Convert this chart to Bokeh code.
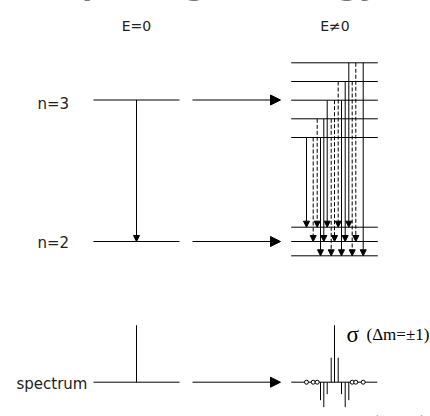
from bokeh.plotting import figure
from bokeh.models import Range1d, Arrow, NormalHead, ColumnDataSource
from bokeh.embed import file_html
from bokeh.resources import INLINE
from bokeh.core.properties import value

# ---------------- data ----------------
title_text = "Splitting of energy"
field_labels = ["E=0", "E\u22600"]
field_x = [136, 334.5]

n_labels = ["n=3", "n=2"]
n_levels_y = [99.5, 241.0]          # unperturbed levels (E=0)
spectrum_label = "spectrum"
spectrum_y = 381.7
zero_field_line = 57.0              # height of the single unsplit line

# Stark-split levels (E != 0): upper (n=3, bottom->top), lower (n=2, top->bottom)
upper_split_y = [137.0, 118.3, 99.7, 81.0, 62.3]
lower_split_y = [226.7, 241.0, 255.3]

# 15 transitions
trans_x = [306.0, 312.7, 320.0,
           316.7, 323.3, 330.7,
           326.7, 334.0, 341.0,
           337.7, 344.7, 351.7,
           348.3, 355.3, 362.7]
trans_upper = [0, 0, 0, 1, 1, 1, 2, 2, 2, 3, 3, 3, 4, 4, 4]
trans_lower = [0, 1, 2, 0, 1, 2, 0, 1, 2, 0, 1, 2, 0, 1, 2]
trans_pol = ["pi", "sigma", "pi",
             "sigma", "pi", "sigma",
             "pi", "sigma", "pi",
             "sigma", "pi", "sigma",
             "pi", "sigma", "pi"]
# spectral intensity: sigma drawn up (+), pi drawn down (-), 0 = forbidden (circle)
trans_intensity = [0, 0, -18,
                   0, -25, 24.5,
                   -12, 57, -12,
                   24.5, -25, 0,
                   -18, 0, 0]

sigma_label = ["\u03c3", "(\u0394m=\u00b11)"]
pi_label = ["\u03c0", "(\u0394m=0)"]

# ---------------- figure ----------------
W, H = 430, 416
p = figure(width=W, height=H, x_range=Range1d(0, W), y_range=Range1d(H, 0),
           output_backend="svg", toolbar_location=None, min_border=0)
p.axis.visible = False
p.grid.visible = False
p.outline_line_color = None
p.background_fill_color = "white"
p.border_fill_color = "white"

black = "#000000"
grey_txt = "#222222"

# title (mostly cropped at the top edge, as in the reference)
p.text(x=[60], y=[-16.5], text=[title_text], text_font=value("DejaVu Sans"),
       text_font_style="bold", text_font_size="30px", text_align="left",
       text_baseline="alphabetic", text_color=black)

# E labels
p.text(x=field_x, y=[25, 25], text=field_labels, text_font=value("DejaVu Sans"),
       text_font_size="14px", text_align="center", text_baseline="alphabetic",
       text_color=grey_txt)

# n labels
p.text(x=[37, 37], y=[n_levels_y[0] + 4, n_levels_y[1] + 1.5], text=n_labels,
       text_font=value("DejaVu Sans"), text_font_size="15px", text_align="left",
       text_baseline="alphabetic", text_color=grey_txt)
p.text(x=[16], y=[spectrum_y + 2], text=[spectrum_label],
       text_font=value("DejaVu Sans"), text_font_size="15px", text_align="left",
       text_baseline="alphabetic", text_color=grey_txt)

# left unperturbed lines
left_rows = n_levels_y + [spectrum_y]
p.segment(x0=[93] * 3, x1=[179] * 3, y0=left_rows, y1=left_rows,
          line_color=black, line_width=1)
# horizontal arrows between panels
harrow = ColumnDataSource(dict(x0=[192] * 3, x1=[280] * 3, y=left_rows))
p.add_layout(Arrow(end=NormalHead(size=10, fill_color=black, line_color=black),
                   x_start="x0", y_start="y", x_end="x1", y_end="y",
                   source=harrow, line_color=black, line_width=1))
# n=3 -> n=2 arrow
p.add_layout(Arrow(end=NormalHead(size=6, fill_color=black, line_color=black),
                   x_start=136, y_start=n_levels_y[0], x_end=136, y_end=n_levels_y[1],
                   line_color=black, line_width=1))
# unsplit spectral line
p.segment(x0=[136], x1=[136], y0=[spectrum_y], y1=[spectrum_y - zero_field_line],
          line_color=black, line_width=1)

# split levels
split_rows = upper_split_y + lower_split_y
p.segment(x0=[290.7] * len(split_rows), x1=[377.3] * len(split_rows),
          y0=split_rows, y1=split_rows, line_color=black, line_width=1)

# transitions
for pol, dash in (("pi", "solid"), ("sigma", "4 2")):
    xs, y0s, y1s = [], [], []
    for x, u, l, pp in zip(trans_x, trans_upper, trans_lower, trans_pol):
        if pp == pol:
            xs.append(x)
            y0s.append(upper_split_y[u])
            y1s.append(lower_split_y[l])
    src = ColumnDataSource(dict(x=xs, y0=y0s, y1=y1s))
    p.add_layout(Arrow(end=NormalHead(size=6, fill_color=black, line_color=black),
                       x_start="x", y_start="y0", x_end="x", y_end="y1",
                       source=src, line_color=black, line_width=1, line_dash=dash))

# split spectrum
p.segment(x0=[290.7], x1=[376.7], y0=[spectrum_y], y1=[spectrum_y],
          line_color=black, line_width=1)
sx = [x for x, s in zip(trans_x, trans_intensity) if s != 0]
sy = [spectrum_y - s for s in trans_intensity if s != 0]
p.segment(x0=sx, x1=sx, y0=[spectrum_y] * len(sx), y1=sy, line_color=black, line_width=1)
cx = [x for x, s in zip(trans_x, trans_intensity) if s == 0]
p.scatter(x=cx, y=[spectrum_y] * len(cx), marker="circle", size=4,
          fill_color="white", line_color=black, line_width=1)

# polarisation labels
p.text(x=[346], y=[334], text=[sigma_label[0]], text_font=value("Liberation Serif"),
       text_font_size="23px", text_align="left", text_baseline="alphabetic", text_color=black)
p.text(x=[366], y=[334], text=[sigma_label[1]], text_font=value("Liberation Serif"),
       text_font_size="17px", text_align="left", text_baseline="alphabetic", text_color=black)
p.text(x=[350], y=[421], text=[pi_label[0]], text_font=value("Liberation Serif"),
       text_font_size="23px", text_align="left", text_baseline="alphabetic", text_color=black)
p.text(x=[372], y=[421], text=[pi_label[1]], text_font=value("Liberation Serif"),
       text_font_size="17px", text_align="left", text_baseline="alphabetic", text_color=black)

open("out.html", "w").write(file_html(p, INLINE))
